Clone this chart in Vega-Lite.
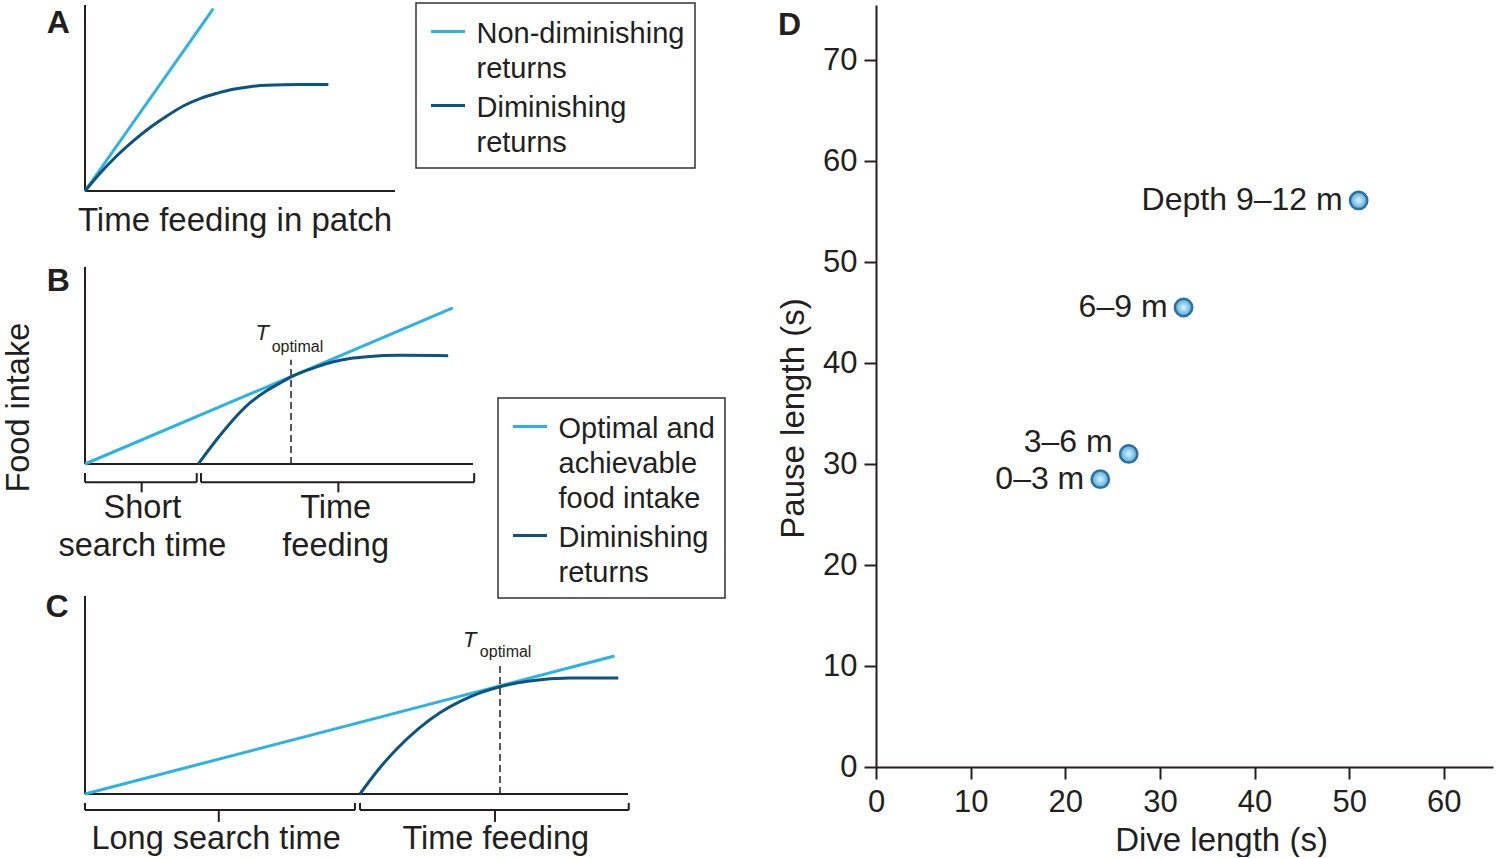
{
  "$schema": "https://vega.github.io/schema/vega-lite/v6.json",
  "padding": {"left": 3, "top": 2, "right": 3, "bottom": 0},
  "config": {
    "font": "Liberation Sans",
    "view": {"stroke": null},
    "text": {"color": "#231f20"}
  },
  "datasets": {
    "dives": [
      {"depth": "Depth 9–12 m", "dive": 51.0, "pause": 56.1},
      {"depth": "6–9 m", "dive": 32.5, "pause": 45.5},
      {"depth": "3–6 m", "dive": 26.7, "pause": 31.0},
      {"depth": "0–3 m", "dive": 23.7, "pause": 28.5}
    ]
  },
  "bounds": "full",
  "spacing": 51,
  "resolve": {"scale": {"color": "independent"}},
  "hconcat": [
    {
      "bounds": "flush",
      "spacing": 76,
      "resolve": {"scale": {"color": "independent"}},
      "vconcat": [
        {
          "width": 310,
          "height": 186,
          "encoding": {
            "x": {"field": "x", "type": "quantitative", "scale": {"domain": [0, 10], "nice": false, "zero": false}, "axis": null},
            "y": {"field": "y", "type": "quantitative", "scale": {"domain": [0, 10], "nice": false, "zero": false}, "axis": null}
          },
          "layer": [
            {
              "data": {"values": [
                {"x": 0, "y": 0, "x2": 10, "y2": 0},
                {"x": 0, "y": 0, "x2": 0, "y2": 10}
              ]},
              "mark": {"type": "rule", "color": "#231f20", "strokeWidth": 2},
              "encoding": {"x2": {"field": "x2"}, "y2": {"field": "y2"}}
            },
            {
              "data": {"values": [
                {"series": "Non-diminishing returns", "x": 0, "y": 0},
                {"series": "Non-diminishing returns", "x": 4.14, "y": 9.81},
                {"series": "Diminishing returns", "x": 0, "y": 0},
                {"series": "Diminishing returns", "x": 0.5, "y": 0.98},
                {"series": "Diminishing returns", "x": 1.02, "y": 1.88},
                {"series": "Diminishing returns", "x": 1.56, "y": 2.69},
                {"series": "Diminishing returns", "x": 2.1, "y": 3.41},
                {"series": "Diminishing returns", "x": 2.64, "y": 4.03},
                {"series": "Diminishing returns", "x": 3.17, "y": 4.57},
                {"series": "Diminishing returns", "x": 3.71, "y": 4.97},
                {"series": "Diminishing returns", "x": 4.25, "y": 5.25},
                {"series": "Diminishing returns", "x": 4.78, "y": 5.47},
                {"series": "Diminishing returns", "x": 5.32, "y": 5.61},
                {"series": "Diminishing returns", "x": 5.86, "y": 5.68},
                {"series": "Diminishing returns", "x": 6.94, "y": 5.72},
                {"series": "Diminishing returns", "x": 7.85, "y": 5.72}
              ]},
              "mark": {"type": "line", "strokeWidth": 3, "interpolate": "monotone"},
              "encoding": {
                "color": {
                  "field": "series", "type": "nominal",
                  "scale": {"domain": ["Non-diminishing returns", "Diminishing returns"], "range": ["#2bb3e3", "#0b5482"]},
                  "legend": {
                    "title": null, "orient": "none", "legendX": 331, "legendY": -2,
                    "symbolType": "stroke", "symbolSize": 1156, "symbolStrokeWidth": 3, "symbolOffset": 3.5,
                    "labelFontSize": 29, "labelColor": "#231f20", "labelFont": "Liberation Sans",
                    "labelBaseline": "top", "labelOffset": 10, "labelLimit": 600,
                    "padding": 10, "rowPadding": 3, "strokeColor": "#333333", "fillColor": "#ffffff",
                    "labelExpr": "split(datum.label, ' ')",
                    "encode": {
                      "labels": {"update": {"dy": {"value": -12}, "lineHeight": {"value": 35}}},
                      "legend": {"update": {"strokeWidth": {"value": 1.5}}}
                    }
                  }
                }
              }
            },
            {
              "data": {"values": [{"x": 4.84, "y": -2.15, "text": "Time feeding in patch"}]},
              "mark": {"type": "text", "fontSize": 33, "align": "center", "baseline": "alphabetic"},
              "encoding": {"text": {"field": "text"}}
            },
            {
              "data": {"values": [{"x": -0.86, "y": 9.02, "text": "A"}]},
              "mark": {"type": "text", "fontSize": 32, "fontWeight": "bold", "align": "center", "baseline": "middle"},
              "encoding": {"text": {"field": "text"}}
            }
          ]
        },
        {
          "width": 388,
          "height": 197,
          "encoding": {
            "x": {"field": "x", "type": "quantitative", "scale": {"domain": [0, 10], "nice": false, "zero": false}, "axis": null},
            "y": {"field": "y", "type": "quantitative", "scale": {"domain": [0, 10], "nice": false, "zero": false}, "axis": null}
          },
          "layer": [
            {
              "data": {"values": [
                {"x": 0, "y": 0, "x2": 10, "y2": 0},
                {"x": 0, "y": 0, "x2": 0, "y2": 10},
                {"x": 0, "y": -0.93, "x2": 2.88, "y2": -0.93},
                {"x": 0, "y": -0.93, "x2": 0, "y2": -0.46},
                {"x": 2.88, "y": -0.93, "x2": 2.88, "y2": -0.46},
                {"x": 1.46, "y": -0.93, "x2": 1.46, "y2": -1.44},
                {"x": 2.99, "y": -0.93, "x2": 10.03, "y2": -0.93},
                {"x": 2.99, "y": -0.93, "x2": 2.99, "y2": -0.46},
                {"x": 10.03, "y": -0.93, "x2": 10.03, "y2": -0.46},
                {"x": 6.53, "y": -0.93, "x2": 6.53, "y2": -1.44}
              ]},
              "mark": {"type": "rule", "color": "#231f20", "strokeWidth": 2},
              "encoding": {"x2": {"field": "x2"}, "y2": {"field": "y2"}}
            },
            {
              "data": {"values": [{"x": 5.31, "y": 0, "x2": 5.31, "y2": 5.29}]},
              "mark": {"type": "rule", "color": "#231f20", "strokeWidth": 1.5, "strokeDash": [7, 4]},
              "encoding": {"x2": {"field": "x2"}, "y2": {"field": "y2"}}
            },
            {
              "data": {"values": [
                {"series": "Optimal and achievable food intake", "x": 0, "y": 0},
                {"series": "Optimal and achievable food intake", "x": 9.48, "y": 7.92},
                {"series": "Diminishing returns", "x": 2.92, "y": 0},
                {"series": "Diminishing returns", "x": 3.39, "y": 1.23},
                {"series": "Diminishing returns", "x": 3.82, "y": 2.25},
                {"series": "Diminishing returns", "x": 4.25, "y": 3.1},
                {"series": "Diminishing returns", "x": 4.68, "y": 3.72},
                {"series": "Diminishing returns", "x": 5.11, "y": 4.2},
                {"series": "Diminishing returns", "x": 5.31, "y": 4.42},
                {"series": "Diminishing returns", "x": 5.97, "y": 4.93},
                {"series": "Diminishing returns", "x": 6.4, "y": 5.19},
                {"series": "Diminishing returns", "x": 6.83, "y": 5.36},
                {"series": "Diminishing returns", "x": 7.26, "y": 5.45},
                {"series": "Diminishing returns", "x": 8.12, "y": 5.52},
                {"series": "Diminishing returns", "x": 9.36, "y": 5.5}
              ]},
              "mark": {"type": "line", "strokeWidth": 3, "interpolate": "monotone"},
              "encoding": {
                "color": {
                  "field": "series", "type": "nominal",
                  "scale": {"domain": ["Optimal and achievable food intake", "Diminishing returns"], "range": ["#2bb3e3", "#0b5482"]},
                  "legend": {
                    "title": null, "orient": "none", "legendX": 413, "legendY": 131,
                    "symbolType": "stroke", "symbolSize": 1156, "symbolStrokeWidth": 3, "symbolOffset": 3.5,
                    "labelFontSize": 29, "labelColor": "#231f20", "labelFont": "Liberation Sans",
                    "labelBaseline": "top", "labelOffset": 10, "labelLimit": 600,
                    "padding": 10, "rowPadding": 3, "strokeColor": "#333333", "fillColor": "#ffffff",
                    "labelExpr": "datum.label == 'Optimal and achievable food intake' ? ['Optimal and', 'achievable', 'food intake'] : split(datum.label, ' ')",
                    "encode": {
                      "labels": {"update": {"dy": {"value": -12}, "lineHeight": {"value": 35}}},
                      "legend": {"update": {"strokeWidth": {"value": 1.5}}}
                    }
                  }
                }
              }
            },
            {
              "data": {"values": [
                {"x": 1.48, "y": -2.74, "text": "Short"},
                {"x": 1.48, "y": -4.69, "text": "search time"},
                {"x": 6.46, "y": -2.74, "text": "Time"},
                {"x": 6.46, "y": -4.69, "text": "feeding"}
              ]},
              "mark": {"type": "text", "fontSize": 32.5, "align": "center", "baseline": "alphabetic"},
              "encoding": {"text": {"field": "text"}}
            },
            {
              "data": {"values": [{"x": -1.7, "y": 2.86, "text": "Food intake"}]},
              "mark": {"type": "text", "fontSize": 32.5, "align": "center", "baseline": "middle", "angle": 270},
              "encoding": {"text": {"field": "text"}}
            },
            {
              "data": {"values": [{"x": -0.69, "y": 9.3, "text": "B"}]},
              "mark": {"type": "text", "fontSize": 32, "fontWeight": "bold", "align": "center", "baseline": "middle"},
              "encoding": {"text": {"field": "text"}}
            },
            {
              "data": {"values": [{"x": 4.57, "y": 6.3, "text": "T"}]},
              "mark": {"type": "text", "fontSize": 22, "fontStyle": "italic", "align": "center", "baseline": "alphabetic"},
              "encoding": {"text": {"field": "text"}}
            },
            {
              "data": {"values": [{"x": 4.81, "y": 5.7, "text": "optimal"}]},
              "mark": {"type": "text", "fontSize": 16, "align": "left", "baseline": "alphabetic"},
              "encoding": {"text": {"field": "text"}}
            }
          ]
        },
        {
          "width": 543,
          "height": 254,
          "encoding": {
            "x": {"field": "x", "type": "quantitative", "scale": {"domain": [0, 14], "nice": false, "zero": false}, "axis": null},
            "y": {"field": "y", "type": "quantitative", "scale": {"domain": [0, 12.83], "nice": false, "zero": false}, "axis": null}
          },
          "layer": [
            {
              "data": {"values": [
                {"x": 0, "y": 0, "x2": 14, "y2": 0},
                {"x": 0, "y": 0, "x2": 0, "y2": 10},
                {"x": 0, "y": -0.81, "x2": 6.96, "y2": -0.81},
                {"x": 0, "y": -0.81, "x2": 0, "y2": -0.45},
                {"x": 6.96, "y": -0.81, "x2": 6.96, "y2": -0.45},
                {"x": 3.45, "y": -0.81, "x2": 3.45, "y2": -1.41},
                {"x": 7.09, "y": -0.81, "x2": 14.02, "y2": -0.81},
                {"x": 7.09, "y": -0.81, "x2": 7.09, "y2": -0.45},
                {"x": 14.02, "y": -0.81, "x2": 14.02, "y2": -0.45},
                {"x": 10.57, "y": -0.81, "x2": 10.57, "y2": -1.41}
              ]},
              "mark": {"type": "rule", "color": "#231f20", "strokeWidth": 2},
              "encoding": {"x2": {"field": "x2"}, "y2": {"field": "y2"}}
            },
            {
              "data": {"values": [{"x": 10.7, "y": 0, "x2": 10.7, "y2": 6.62}]},
              "mark": {"type": "rule", "color": "#231f20", "strokeWidth": 1.5, "strokeDash": [7, 4]},
              "encoding": {"x2": {"field": "x2"}, "y2": {"field": "y2"}}
            },
            {
              "data": {"values": [
                {"series": "Optimal and achievable food intake", "x": 0, "y": 0},
                {"series": "Optimal and achievable food intake", "x": 13.65, "y": 6.97},
                {"series": "Diminishing returns", "x": 7.09, "y": 0},
                {"series": "Diminishing returns", "x": 7.55, "y": 1.2},
                {"series": "Diminishing returns", "x": 8.05, "y": 2.3},
                {"series": "Diminishing returns", "x": 8.6, "y": 3.3},
                {"series": "Diminishing returns", "x": 9.15, "y": 4.1},
                {"series": "Diminishing returns", "x": 9.7, "y": 4.7},
                {"series": "Diminishing returns", "x": 10.2, "y": 5.12},
                {"series": "Diminishing returns", "x": 10.7, "y": 5.42},
                {"series": "Diminishing returns", "x": 11.46, "y": 5.71},
                {"series": "Diminishing returns", "x": 12.5, "y": 5.86},
                {"series": "Diminishing returns", "x": 13.75, "y": 5.86}
              ]},
              "mark": {"type": "line", "strokeWidth": 3, "interpolate": "monotone"},
              "encoding": {
                "color": {
                  "field": "series", "type": "nominal",
                  "scale": {"domain": ["Optimal and achievable food intake", "Diminishing returns"], "range": ["#2bb3e3", "#0b5482"]},
                  "legend": null
                }
              }
            },
            {
              "data": {"values": [
                {"x": 3.38, "y": -2.79, "text": "Long search time"},
                {"x": 10.59, "y": -2.79, "text": "Time feeding"}
              ]},
              "mark": {"type": "text", "fontSize": 32.5, "align": "center", "baseline": "alphabetic"},
              "encoding": {"text": {"field": "text"}}
            },
            {
              "data": {"values": [{"x": -0.72, "y": 9.44, "text": "C"}]},
              "mark": {"type": "text", "fontSize": 32, "fontWeight": "bold", "align": "center", "baseline": "middle"},
              "encoding": {"text": {"field": "text"}}
            },
            {
              "data": {"values": [{"x": 9.92, "y": 7.45, "text": "T"}]},
              "mark": {"type": "text", "fontSize": 22, "fontStyle": "italic", "align": "center", "baseline": "alphabetic"},
              "encoding": {"text": {"field": "text"}}
            },
            {
              "data": {"values": [{"x": 10.18, "y": 6.9, "text": "optimal"}]},
              "mark": {"type": "text", "fontSize": 16, "align": "left", "baseline": "alphabetic"},
              "encoding": {"text": {"field": "text"}}
            }
          ]
        }
      ]
    },
    {
      "width": 617,
      "height": 762,
      "encoding": {
        "x": {
          "field": "dive", "type": "quantitative", "title": "Dive length (s)",
          "scale": {"domain": [0, 65.2], "nice": false, "zero": false},
          "axis": {
            "values": [0, 10, 20, 30, 40, 50, 60], "grid": false,
            "domainColor": "#231f20", "domainWidth": 2, "tickColor": "#231f20", "tickWidth": 2, "tickSize": 12,
            "labelFontSize": 31, "labelColor": "#231f20", "labelPadding": 8, "labelFlush": false,
            "titleFontSize": 33, "titleFontWeight": "normal", "titleColor": "#231f20", "titlePadding": 7, "titleX": 345
          }
        },
        "y": {
          "field": "pause", "type": "quantitative", "title": "Pause length (s)",
          "scale": {"domain": [0, 75.45], "nice": false, "zero": false},
          "axis": {
            "values": [0, 10, 20, 30, 40, 50, 60, 70], "grid": false,
            "domainColor": "#231f20", "domainWidth": 2, "tickColor": "#231f20", "tickWidth": 2, "tickSize": 12,
            "labelFontSize": 31, "labelColor": "#231f20", "labelPadding": 7,
            "titleFontSize": 33, "titleFontWeight": "normal", "titleColor": "#231f20", "titlePadding": 12, "titleY": 413
          }
        }
      },
      "layer": [
        {
          "data": {"name": "dives"},
          "mark": {
            "type": "circle", "size": 300, "opacity": 1,
            "fill": {"gradient": "radial", "x1": 0.5, "y1": 0.5, "r1": 0, "x2": 0.5, "y2": 0.5, "r2": 0.5,
                     "stops": [{"offset": 0, "color": "#dff3fb"}, {"offset": 1, "color": "#4aaad9"}]},
            "stroke": "#2b6fa0", "strokeWidth": 2.5
          }
        },
        {
          "data": {"name": "dives"},
          "transform": [{"filter": "datum.depth !== '3–6 m'"}],
          "mark": {"type": "text", "fontSize": 32, "align": "right", "baseline": "middle", "dx": -16},
          "encoding": {"text": {"field": "depth"}}
        },
        {
          "data": {"name": "dives"},
          "transform": [{"filter": "datum.depth === '3–6 m'"}],
          "mark": {"type": "text", "fontSize": 32, "align": "right", "baseline": "middle", "dx": -16, "dy": -12},
          "encoding": {"text": {"field": "depth"}}
        },
        {
          "data": {"values": [{"dive": -9.13, "pause": 73.5, "text": "D"}]},
          "mark": {"type": "text", "fontSize": 32, "fontWeight": "bold", "align": "center", "baseline": "middle"},
          "encoding": {"text": {"field": "text"}}
        }
      ]
    }
  ]
}
